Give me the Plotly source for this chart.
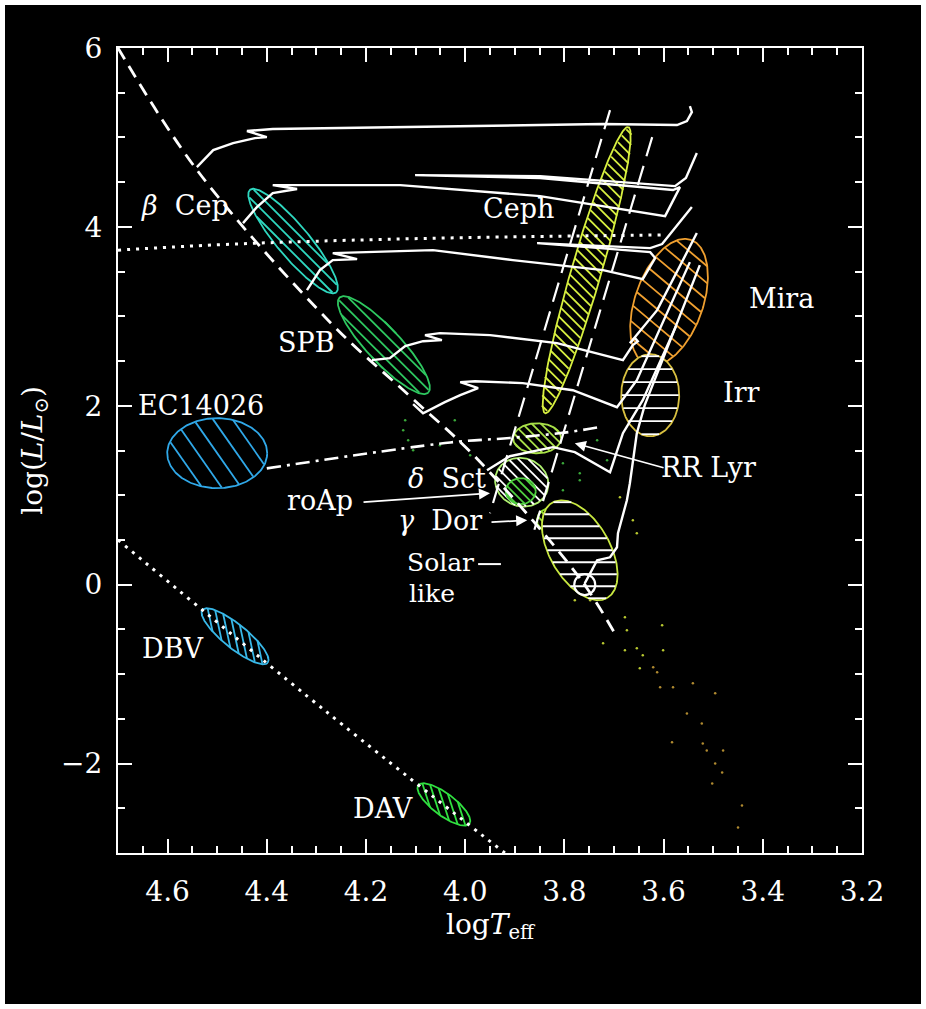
import numpy as np
import plotly.graph_objects as go

# ---------------- data ----------------
zams_T = [4.70, 4.54, 4.27, 4.11, 3.98, 3.77, 3.70]
zams_L = [6.00, 4.63, 2.92, 2.10, 1.43, 0.08, -0.53]

upper_dot_T = [4.70, 4.50, 4.30, 4.00, 3.60]
upper_dot_L = [3.74, 3.80, 3.84, 3.88, 3.91]

wd_T = [4.70, 4.28, 3.92]
wd_L = [0.50, -1.42, -3.00]

hb_T = [4.40, 4.03, 3.91, 3.80, 3.73]
hb_L = [1.30, 1.59, 1.64, 1.70, 1.76]

strip_blue_T = [3.708, 3.950]
strip_blue_L = [5.306, 0.799]
strip_red_T = [3.623, 3.865]
strip_red_L = [5.004, 0.530]

trackA_T = [4.541, 4.508, 4.468, 4.424, 4.400, 4.440, 4.388, 4.131, 3.722, 3.573, 3.553, 3.543, 3.547]
trackA_L = [4.669, 4.859, 4.937, 4.993, 5.004, 5.072, 5.094, 5.116, 5.150, 5.139, 5.183, 5.284, 5.351]

trackB_T = [4.448, 4.420, 4.388, 4.349, 4.339, 4.388, 4.333, 4.131, 3.849, 3.597, 3.567,
            3.581, 3.849, 4.101, 3.849, 3.577, 3.555, 3.533]
trackB_L = [4.042, 4.221, 4.378, 4.412, 4.423, 4.467, 4.467, 4.467, 4.344, 4.121, 4.445,
            4.412, 4.546, 4.579, 4.568, 4.456, 4.546, 4.825]

trackC_T = [4.319, 4.293, 4.267, 4.218, 4.267, 4.212, 4.065, 3.904, 3.722, 3.642, 3.617,
            3.627, 3.855, 3.627, 3.603, 3.543]
trackC_L = [3.293, 3.517, 3.629, 3.640, 3.707, 3.718, 3.740, 3.629, 3.517, 3.416, 3.651,
            3.718, 3.819, 3.763, 3.808, 4.221]

trackD_T = [4.188, 4.152, 4.121, 4.085, 4.047, 4.081, 4.051, 3.950, 3.815, 3.682, 3.662,
            3.652, 3.658, 3.668, 3.613, 3.533]
trackD_L = [2.510, 2.532, 2.667, 2.722, 2.734, 2.790, 2.812, 2.790, 2.700, 2.510, 2.678,
            2.720, 2.760, 2.700, 3.069, 3.931]

trackE_T = [4.105, 4.085, 4.041, 4.010, 3.974, 4.010, 3.980, 3.884, 3.783, 3.694, 3.654, 3.547]
trackE_L = [2.018, 1.917, 2.040, 2.118, 2.197, 2.264, 2.275, 2.253, 2.174, 1.984, 2.286, 3.606]

trackF_T = [3.956, 3.910, 3.823, 3.779, 3.708, 3.682, 3.642, 3.575]
trackF_L = [1.279, 1.436, 1.537, 1.481, 1.257, 1.693, 2.063, 2.890]

trackG_T = [3.759, 3.748, 3.734, 3.708, 3.694, 3.692, 3.674, 3.668, 3.662, 3.654, 3.638, 3.527]
trackG_L = [0.015, 0.127, 0.273, 0.306, 0.418, 0.575, 0.944, 1.134, 1.391, 1.693, 2.007, 3.573]

# pulsator regions: name, centre logT, centre logL, semi-axes (screen px), tilt (deg)
reg_name = ["bCep", "SPB", "EC14026", "DBV", "DAV", "Ceph", "Mira", "Irr",
            "RRLyr", "dSct", "roAp", "gDor", "Solar"]
reg_T = [4.347, 4.164, 4.500, 4.464, 4.043, 3.755, 3.589, 3.627, 3.855, 3.886, 3.888, 3.829, 3.769]
reg_L = [3.841, 2.678, 1.470, -0.577, -2.457, 3.517, 3.159, 2.118, 1.637, 1.145, 1.045, 0.720, 0.385]
reg_a = [67, 65, 50, 42, 32, 149, 66, 41, 24, 27, 15, 13, 55]
reg_b = [16, 17, 35, 12, 11, 15, 34, 29, 15, 24, 13, 12, 30]
reg_ang = [-50, -47, 0, -39, -37, 73.8, 70.6, 90, 0, -20, 0, 0, -60]
reg_edge = ["#2fd8c0", "#2ec860", "#30a8e8", "#38b8e8", "#30e040", "#d8f040", "#f0a030",
            "#d8c040", "#a8e048", "#b0f070", "#50d040", "#90e030", "#c8e840"]
reg_hatch = ["#2fd8c0", "#2ec860", "#30a8e8", "#38b8e8", "#30e040", "#d8f040", "#f0a030",
             "#ffffff", "#a8e048", "#ffffff", "#50d040", "#90e030", "#ffffff"]
reg_hang = [-45, -45, -55, -78, -72, -45, -40, 0, -45, -45, -45, -45, 0]
reg_hsp = [8.5, 8.5, 16, 7, 7, 7.5, 13, 13, 6.5, 7, 6, 6, 12]

# faint field stars
starsG_T = [4.125, 4.115, 4.105, 4.121, 4.021, 4.051, 3.990, 3.803, 3.789, 3.769, 3.734, 3.769, 3.714, 3.803]
starsG_L = [1.727, 1.615, 1.503, 1.839, 1.839, 1.559, 1.447, 1.056, 0.866, 1.168, 1.615, 1.246, 1.391, 1.358]
starsY_T = [3.688, 3.662, 3.654, 3.825, 3.817, 3.797, 3.748, 3.779, 3.728, 3.678, 3.674, 3.722, 3.678,
            3.603, 3.601, 3.654, 3.642, 3.648]
starsY_L = [0.978, 0.720, 0.575, 0.608, 0.385, 0.105, -0.175, -0.175, -0.063, -0.365, -0.510, -0.656, -0.734,
            -0.454, -0.734, -0.712, -0.790, -0.935]
starsO_T = [3.621, 3.613, 3.607, 3.581, 3.541, 3.496, 3.553, 3.523, 3.583, 3.521, 3.513, 3.480,
            3.496, 3.482, 3.502, 3.442, 3.450]
starsO_L = [-0.924, -0.980, -1.148, -1.148, -1.103, -1.215, -1.439, -1.551, -1.763, -1.775, -1.853, -1.853,
            -1.998, -2.099, -2.222, -2.468, -2.714]

sun_T = [3.759]
sun_L = [0.0]

# labels
lab_text = ["<i>β</i>  Cep", "Ceph", "Mira", "SPB", "Irr", "RR Lyr", "<i>δ</i>  Sct", "roAp",
            "<i>γ</i>  Dor", "Solar", "like", "DBV", "DAV"]
lab_T = [4.565, 3.892, 3.363, 4.319, 3.442, 3.509, 4.037, 4.293, 4.051, 4.049, 4.067, 4.591, 4.166]
lab_L = [4.244, 4.210, 3.204, 2.711, 2.152, 1.313, 1.190, 0.944, 0.720, 0.250, -0.095, -0.712, -2.501]
lab_size = [27, 27, 27, 27, 27, 27, 27, 27, 27, 25, 25, 27, 27]

# arrows: (tail T, tail L) -> (head T, head L)
arr_tail_T = [4.208, 3.950, 3.597]
arr_tail_L = [0.922, 0.698, 1.302]
arr_head_T = [3.950, 3.875, 3.779]
arr_head_L = [1.022, 0.720, 1.581]

solar_dash_T = [3.974, 3.928]
solar_dash_L = [0.230, 0.230]

# ---------------- layout geometry ----------------
W, H = 916, 999
ML, MR, MT, MB = 113, 59, 43, 151
PW, PH = W - ML - MR, H - MT - MB
XR = [4.7, 3.2]
YR = [-3.0, 6.0]
SX = PW / abs(XR[0] - XR[1])
SY = PH / (YR[1] - YR[0])
FONT = "DejaVu Serif"


def outline(T0, L0, a, b, ang):
    t = np.linspace(0, 2 * np.pi, 241)
    th = np.radians(ang)
    x = a * np.cos(t) * np.cos(th) - b * np.sin(t) * np.sin(th)
    y = a * np.cos(t) * np.sin(th) + b * np.sin(t) * np.cos(th)
    return T0 - x / SX, L0 + y / SY


def hatch(T0, L0, a, b, ang, hang, sp):
    th, ph = np.radians(ang), np.radians(hang)
    u = np.array([np.cos(th), np.sin(th)])
    v = np.array([-np.sin(th), np.cos(th)])
    h = np.array([np.cos(ph), np.sin(ph)])
    n = np.array([-np.sin(ph), np.cos(ph)])
    hu, hv, nu, nv = h @ u, h @ v, n @ u, n @ v
    A = hu ** 2 / a ** 2 + hv ** 2 / b ** 2
    xs, ys = [], []
    N = int(max(a, b) / sp) + 1
    for k in range(-N, N + 1):
        d = k * sp
        B = 2 * d * (nu * hu / a ** 2 + nv * hv / b ** 2)
        C = d ** 2 * (nu ** 2 / a ** 2 + nv ** 2 / b ** 2) - 1
        disc = B * B - 4 * A * C
        if disc <= 0:
            continue
        r = np.sqrt(disc)
        for t in ((-B - r) / (2 * A) * 0.98, (-B + r) / (2 * A) * 0.98):
            p = d * n + t * h
            xs.append(T0 - p[0] / SX)
            ys.append(L0 + p[1] / SY)
        xs.append(None)
        ys.append(None)
    return xs, ys


fig = go.Figure()

# field stars
for tx, ty, col in [(starsG_T, starsG_L, "#3aa83a"), (starsY_T, starsY_L, "#b8c830"),
                    (starsO_T, starsO_L, "#b08a30")]:
    fig.add_trace(go.Scatter(x=tx, y=ty, mode="markers",
                             marker=dict(size=2.5, color=col), hoverinfo="skip"))

# regions
for i in range(len(reg_name)):
    hx, hy = hatch(reg_T[i], reg_L[i], reg_a[i], reg_b[i], reg_ang[i], reg_hang[i], reg_hsp[i])
    ox, oy = outline(reg_T[i], reg_L[i], reg_a[i], reg_b[i], reg_ang[i])
    fig.add_trace(go.Scatter(x=ox, y=oy, mode="lines", fill="toself", fillcolor="black",
                             line=dict(color=reg_edge[i], width=1.8), hoverinfo="skip"))
    fig.add_trace(go.Scatter(x=hx, y=hy, mode="lines",
                             line=dict(color=reg_hatch[i], width=1.8), hoverinfo="skip"))

# reference lines
fig.add_trace(go.Scatter(x=zams_T, y=zams_L, mode="lines", line_shape="spline",
                         line=dict(color="white", width=2.8, dash="13px,8px")))
fig.add_trace(go.Scatter(x=upper_dot_T, y=upper_dot_L, mode="lines", line_shape="spline",
                         line=dict(color="white", width=3.0, dash="3px,6px")))
fig.add_trace(go.Scatter(x=wd_T, y=wd_L, mode="lines", line_shape="spline",
                         line=dict(color="white", width=3.0, dash="3px,6px")))
fig.add_trace(go.Scatter(x=hb_T, y=hb_L, mode="lines", line_shape="spline",
                         line=dict(color="white", width=2.6, dash="14px,6px,3px,6px")))
for tx, ty in [(strip_blue_T, strip_blue_L), (strip_red_T, strip_red_L)]:
    fig.add_trace(go.Scatter(x=tx, y=ty, mode="lines",
                             line=dict(color="white", width=2.2, dash="20px,10px")))

# evolutionary tracks
for tx, ty in [(trackA_T, trackA_L), (trackB_T, trackB_L), (trackC_T, trackC_L),
               (trackD_T, trackD_L), (trackE_T, trackE_L), (trackF_T, trackF_L),
               (trackG_T, trackG_L)]:
    fig.add_trace(go.Scatter(x=tx, y=ty, mode="lines",
                             line=dict(color="white", width=2.4)))

fig.add_trace(go.Scatter(x=solar_dash_T, y=solar_dash_L, mode="lines",
                         line=dict(color="white", width=2.0)))

# sun
fig.add_trace(go.Scatter(x=sun_T, y=sun_L, mode="markers",
                         marker=dict(symbol="circle-open-dot", size=21, color="white",
                                     line=dict(width=2.2, color="white"))))

annotations = []
for s, tx, ty, fs in zip(lab_text, lab_T, lab_L, lab_size):
    annotations.append(dict(x=tx, y=ty, text=s, showarrow=False, xref="x", yref="y",
                            font=dict(family=FONT, size=fs, color="white")))
annotations.append(dict(x=4.664, y=2.006, text="EC14026", showarrow=False, xanchor="left",
                        xref="x", yref="y", font=dict(family=FONT, size=27, color="white")))
for i in range(len(arr_tail_T)):
    annotations.append(dict(x=arr_head_T[i], y=arr_head_L[i], ax=arr_tail_T[i], ay=arr_tail_L[i],
                            xref="x", yref="y", axref="x", ayref="y", text="", showarrow=True,
                            arrowhead=2, arrowsize=1.3, arrowwidth=1.7, arrowcolor="white"))

axis_common = dict(showline=True, linecolor="white", linewidth=2, mirror="ticks",
                   ticks="inside", ticklen=14, tickwidth=1.6, tickcolor="white",
                   showgrid=False, zeroline=False,
                   tickfont=dict(family=FONT, size=28, color="white"))

fig.update_layout(
    width=W, height=H,
    margin=dict(l=ML, r=MR, t=MT, b=MB),
    paper_bgcolor="black", plot_bgcolor="black",
    showlegend=False,
    annotations=annotations,
    xaxis=dict(range=XR, tick0=3.2, dtick=0.2, tickformat=".1f",
               minor=dict(dtick=0.05, tick0=3.2, ticks="inside", ticklen=7, tickwidth=1.6,
                          tickcolor="white"),
               ticklabelstandoff=12,
               title=dict(text="log<i>T</i><sub>eff</sub>", standoff=4,
                          font=dict(family=FONT, size=28, color="white")),
               **axis_common),
    yaxis=dict(range=YR, tick0=0, dtick=2,
               minor=dict(dtick=0.5, tick0=0, ticks="inside", ticklen=7, tickwidth=1.6,
                          tickcolor="white"),
               ticklabelstandoff=8,
               title=dict(text="log(<i>L</i>/<i>L</i><sub>⊙</sub>)", standoff=10,
                          font=dict(family=FONT, size=28, color="white")),
               **axis_common),
)

fig.write_html("out.html",
               post_script="document.body.style.margin='5px';document.body.style.overflow='hidden';")
